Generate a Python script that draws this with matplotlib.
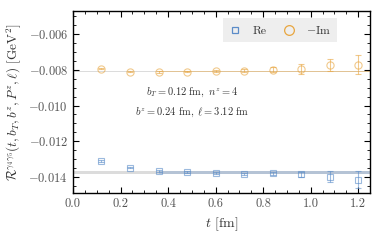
import matplotlib
matplotlib.use("Agg")
import matplotlib.pyplot as plt
from matplotlib.ticker import MultipleLocator, AutoMinorLocator
from matplotlib.lines import Line2D

plt.rcParams['font.family'] = 'serif'
plt.rcParams['font.serif'] = ['cmr10', 'DejaVu Serif']
plt.rcParams['mathtext.fontset'] = 'cm'
plt.rcParams['axes.formatter.use_mathtext'] = True
plt.rcParams['axes.unicode_minus'] = True

# data
t = [0.12, 0.24, 0.36, 0.48, 0.60, 0.72, 0.84, 0.96, 1.08, 1.20]
re_val = [-0.01312, -0.01348, -0.01365, -0.01372, -0.01376, -0.01383, -0.01381, -0.01385, -0.01398, -0.01417]
re_err = [0.00004, 0.00005, 0.00005, 0.00005, 0.00006, 0.00007, 0.00009, 0.00013, 0.00032, 0.00048]
im_val = [-0.00793, -0.00810, -0.00812, -0.00810, -0.00807, -0.00805, -0.00799, -0.00797, -0.00773, -0.00771]
im_err = [0.00003, 0.00003, 0.00004, 0.00005, 0.00007, 0.00009, 0.00014, 0.00028, 0.00034, 0.00054]

re_fit, re_fit_err = -0.01376, 0.00007
im_fit, im_fit_err = -0.00810, 0.00004
fit_range = [0.36, 1.25]

blue = '#5b8cc8'
orange = '#e8a640'
txt = '#333333'

fig = plt.figure(figsize=(3.82, 2.43), dpi=100)
ax = fig.add_axes([0.191, 0.206, 0.778, 0.749])

# grey extrapolated bands over the full range
full = [0.0, 1.25]
ax.fill_between(full, re_fit - re_fit_err, re_fit + re_fit_err, color='#dcdcdc', lw=0, zorder=1)
ax.fill_between(full, im_fit - im_fit_err, im_fit + im_fit_err, color='#dcdcdc', lw=0, zorder=1)
# coloured bands over the fit range
ax.fill_between(fit_range, re_fit - re_fit_err, re_fit + re_fit_err, color=blue, alpha=0.3, lw=0, zorder=2)
ax.fill_between(fit_range, im_fit - im_fit_err, im_fit + im_fit_err, color=orange, alpha=0.45, lw=0, zorder=2)

ax.errorbar(t, re_val, yerr=re_err, fmt='s', ms=4.3, mfc='none', mec=blue, ecolor=blue,
            mew=0.8, elinewidth=0.8, capsize=2.5, capthick=0.8, alpha=0.6, zorder=3)
ax.errorbar(t, im_val, yerr=im_err, fmt='o', ms=5.2, mfc='none', mec=orange, ecolor=orange,
            mew=0.8, elinewidth=0.8, capsize=2.5, capthick=0.8, alpha=0.6, zorder=3)

ax.set_xlim(0, 1.25)
ax.set_ylim(-0.0149, -0.0047)
ax.xaxis.set_major_locator(MultipleLocator(0.2))
ax.xaxis.set_minor_locator(MultipleLocator(0.05))
ax.yaxis.set_major_locator(MultipleLocator(0.002))
ax.yaxis.set_minor_locator(AutoMinorLocator(4))
ax.xaxis.set_major_formatter(matplotlib.ticker.FormatStrFormatter('%.1f'))
ax.yaxis.set_major_formatter(matplotlib.ticker.FuncFormatter(lambda v, p: r'$%.3f$' % v))
ax.tick_params(which='both', direction='in', top=True, right=True, labelsize=9, labelcolor='#555555')
ax.tick_params(which='major', length=4, width=0.8)
ax.tick_params(which='minor', length=2, width=0.6)
for s in ax.spines.values():
    s.set_linewidth(1.0)

ax.set_xlabel(r'$t$ [fm]', fontsize=10, color=txt)
ax.set_ylabel(r'$\mathcal{R}^{\gamma_4\gamma_5}(t, b_T, b^z, P^z, \ell)$ [GeV$^2$]', fontsize=9.5, color=txt)

ax.text(0.40, 0.551, r'$b_T = 0.12\ \mathrm{fm},\ n^z = 4$', transform=ax.transAxes,
        ha='center', va='center', fontsize=7.5, color=txt)
ax.text(0.40, 0.441, r'$b^z = 0.24\ \mathrm{fm},\ \ell = 3.12\ \mathrm{fm}$', transform=ax.transAxes,
        ha='center', va='center', fontsize=7.5, color=txt)

handles = [Line2D([], [], marker='s', ls='none', ms=4.3, mfc='none', mec=blue, mew=0.9),
           Line2D([], [], marker='o', ls='none', ms=7, mfc='none', mec=orange, mew=0.9)]
leg = ax.legend(handles, ['Re', r'$-$Im'], loc='center', bbox_to_anchor=(0.697, 0.895), ncol=2,
                fontsize=8.5, frameon=True, fancybox=False, handlelength=1.0, handletextpad=1.0,
                columnspacing=1.4, borderpad=0.5, labelcolor=txt)
leg.get_frame().set_facecolor('#eeeeee')
leg.get_frame().set_edgecolor('none')
leg.get_frame().set_alpha(1.0)

plt.savefig('out.png', dpi=100)
